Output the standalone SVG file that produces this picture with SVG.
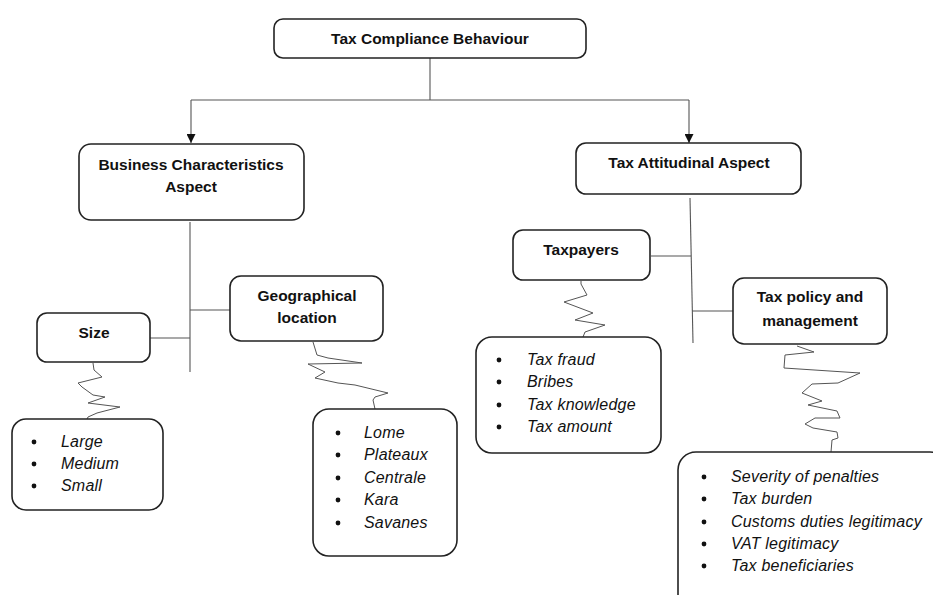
<svg xmlns="http://www.w3.org/2000/svg" width="933" height="595" viewBox="0 0 933 595">
<style>
.box{fill:#fff;stroke:#222;stroke-width:1.6}
.ln{fill:none;stroke:#555;stroke-width:1.1}
.sq{fill:none;stroke:#555;stroke-width:1}
.h{font-family:"Liberation Sans",Arial,sans-serif;font-weight:bold;font-size:15.5px;fill:#111;text-anchor:middle}
.it{font-family:"Liberation Sans",Arial,sans-serif;font-style:italic;font-size:16px;letter-spacing:0.2px;fill:#111}
.b{fill:#111}
</style>
<defs>
<marker id="arr" viewBox="0 0 10 10" refX="10" refY="5" markerWidth="9" markerHeight="9" markerUnits="userSpaceOnUse" orient="auto">
<path d="M0,0 L10,5 L0,10 Z" fill="#111"/>
</marker>
</defs>
<rect width="933" height="595" fill="#fff"/>
<g id="connectors">
<path class="ln" d="M430,58 V100"/>
<path class="ln" d="M191,100 H689"/>
<path class="ln" d="M191,100 V143" marker-end="url(#arr)"/>
<path class="ln" d="M689,100 V143" marker-end="url(#arr)"/>
<path class="ln" d="M190,222 V372"/>
<path class="ln" d="M190,310 H230"/>
<path class="ln" d="M150,338 H190"/>
<path class="ln" d="M690,198 L693,343"/>
<path class="ln" d="M651,256 H691"/>
<path class="ln" d="M692,311 H733"/>
<path class="sq" d="M93,363 L94,370 L102,377 L78,383 L82,387 L93,395 L105,397 L88,403 L120,407 L97,413 L88,417 L87,419"/>
<path class="sq" d="M313,342 L317,355 L328,358 L362,363 L308,364 L325,372 L315,378 L338,383 L355,385 L388,393 L375,397 L373,400 L375,409"/>
<path class="sq" d="M581,281 L581,284 L587,295 L564,302 L593,313 L575,320 L605,325 L585,332 L583,337"/>
<path class="sq" d="M797,346 L814,352 L785,355 L784,368 L860,373 L838,383 L812,384 L802,393 L822,401 L808,405 L837,411 L840,418 L815,418 L805,424 L813,428 L837,432 L838,438 L832,440 L831,452"/>
</g>
<g id="n-root">
<rect class="box" x="274" y="19" width="312" height="39" rx="9"/>
<text class="h" x="430" y="44">Tax Compliance Behaviour</text>
</g>
<g id="n-business">
<rect class="box" x="79" y="144" width="225" height="76" rx="12"/>
<text class="h" x="191" y="170">Business Characteristics</text>
<text class="h" x="191" y="192">Aspect</text>
</g>
<g id="n-attitudinal">
<rect class="box" x="576" y="143" width="225" height="51" rx="10"/>
<text class="h" x="689" y="168">Tax Attitudinal Aspect</text>
</g>
<g id="n-geo">
<rect class="box" x="230" y="276" width="153" height="65" rx="11"/>
<text class="h" x="307" y="301">Geographical</text>
<text class="h" x="307" y="323">location</text>
</g>
<g id="n-size">
<rect class="box" x="37" y="313" width="113" height="49" rx="10"/>
<text class="h" x="94" y="338">Size</text>
</g>
<g id="n-taxpayers">
<rect class="box" x="513" y="230" width="137" height="50" rx="10"/>
<text class="h" x="581" y="255">Taxpayers</text>
</g>
<g id="n-policy">
<rect class="box" x="733" y="278" width="154" height="66" rx="11"/>
<text class="h" x="810" y="302">Tax policy and</text>
<text class="h" x="810" y="326">management</text>
</g>
<g id="n-size-list">
<rect class="box" x="12" y="419" width="151" height="91" rx="14"/>
<circle class="b" cx="34" cy="442" r="2.4"/><text class="it" x="61" y="447">Large</text>
<circle class="b" cx="34" cy="464" r="2.4"/><text class="it" x="61" y="469">Medium</text>
<circle class="b" cx="34" cy="486" r="2.4"/><text class="it" x="61" y="491">Small</text>
</g>
<g id="n-geo-list">
<rect class="box" x="313" y="409" width="144" height="147" rx="16"/>
<circle class="b" cx="338" cy="433" r="2.4"/><text class="it" x="364" y="438">Lome</text>
<circle class="b" cx="338" cy="455" r="2.4"/><text class="it" x="364" y="460">Plateaux</text>
<circle class="b" cx="338" cy="478" r="2.4"/><text class="it" x="364" y="483">Centrale</text>
<circle class="b" cx="338" cy="500" r="2.4"/><text class="it" x="364" y="505">Kara</text>
<circle class="b" cx="338" cy="523" r="2.4"/><text class="it" x="364" y="528">Savanes</text>
</g>
<g id="n-taxpayers-list">
<rect class="box" x="476" y="337" width="185" height="116" rx="16"/>
<circle class="b" cx="499" cy="360" r="2.4"/><text class="it" x="527" y="365">Tax fraud</text>
<circle class="b" cx="499" cy="382" r="2.4"/><text class="it" x="527" y="387">Bribes</text>
<circle class="b" cx="499" cy="405" r="2.4"/><text class="it" x="527" y="410">Tax knowledge</text>
<circle class="b" cx="499" cy="427" r="2.4"/><text class="it" x="527" y="432">Tax amount</text>
</g>
<g id="n-policy-list">
<rect class="box" x="678" y="452" width="270" height="160" rx="18"/>
<circle class="b" cx="704" cy="477" r="2.4"/><text class="it" x="731" y="482">Severity of penalties</text>
<circle class="b" cx="704" cy="499" r="2.4"/><text class="it" x="731" y="504">Tax burden</text>
<circle class="b" cx="704" cy="522" r="2.4"/><text class="it" x="731" y="527">Customs duties legitimacy</text>
<circle class="b" cx="704" cy="544" r="2.4"/><text class="it" x="731" y="549">VAT legitimacy</text>
<circle class="b" cx="704" cy="566" r="2.4"/><text class="it" x="731" y="571">Tax beneficiaries</text>
</g>
</svg>
